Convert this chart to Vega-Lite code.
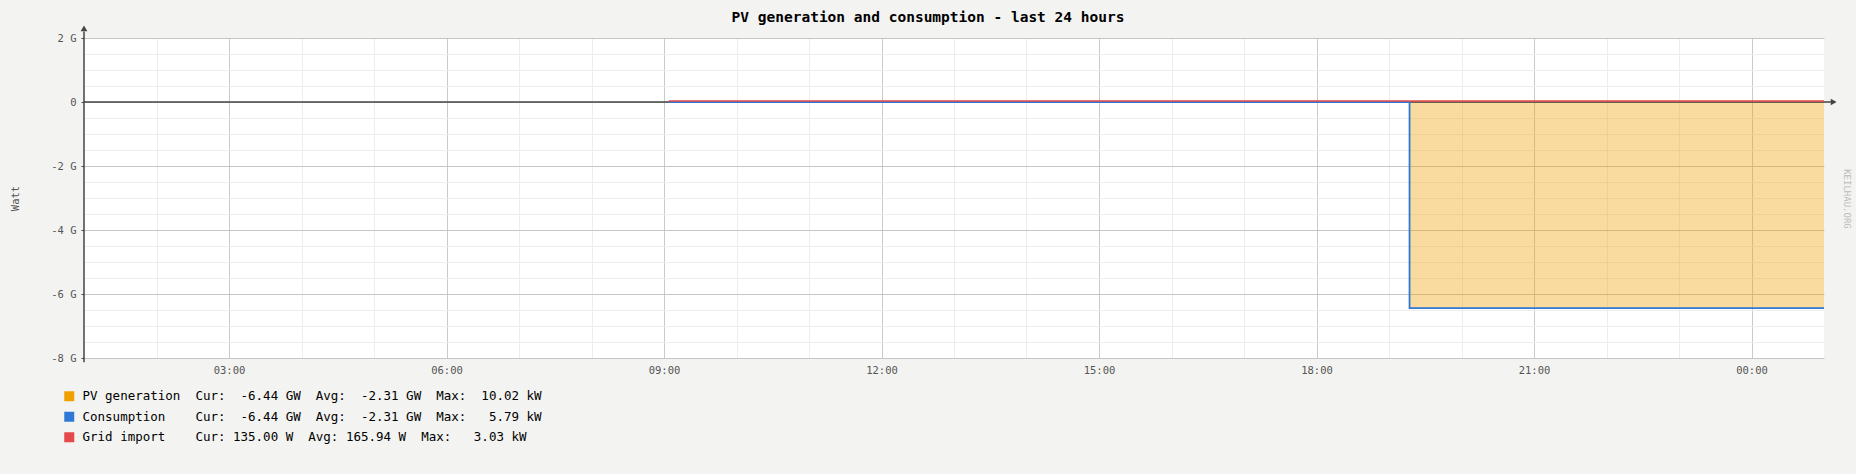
{
  "$schema": "https://vega.github.io/schema/vega-lite/v6.json",
  "width": 1740,
  "height": 320,
  "autosize": {"type": "none"},
  "padding": {"left": 84, "top": 38, "right": 32, "bottom": 116},
  "background": "#F3F3F1",
  "view": {"fill": "#FFFFFF", "stroke": null},
  "title": {
    "text": "PV generation and consumption - last 24 hours",
    "font": "DejaVu Sans Mono", "fontSize": 14.5, "fontWeight": "bold", "color": "#000000",
    "anchor": "middle", "frame": "group", "dx": -26, "offset": 0
  },
  "resolve": {"axis": {"x": "independent", "y": "independent"}},
  "data": {
    "values": [
      {"series": "PV generation", "time": "2024-01-15T09:04:00", "watts": 0},
      {"series": "PV generation", "time": "2024-01-15T19:17:00", "watts": -6440000000},
      {"series": "PV generation", "time": "2024-01-16T01:00:00", "watts": -6440000000},
      {"series": "Consumption", "time": "2024-01-15T09:04:00", "watts": 0},
      {"series": "Consumption", "time": "2024-01-15T19:17:00", "watts": -6440000000},
      {"series": "Consumption", "time": "2024-01-16T01:00:00", "watts": -6440000000},
      {"series": "Grid import", "time": "2024-01-15T09:04:00", "watts": 135},
      {"series": "Grid import", "time": "2024-01-15T19:17:00", "watts": 135},
      {"series": "Grid import", "time": "2024-01-16T01:00:00", "watts": 135}
    ]
  },
  "layer": [
    {
      "transform": [{"filter": "datum.series === 'PV generation'"}],
      "mark": {"type": "area", "interpolate": "step-after", "fillOpacity": 0.375},
      "encoding": {
        "x": {
          "field": "time", "type": "temporal",
          "scale": {"domain": [
            {"year": 2024, "month": 1, "date": 15, "hours": 1},
            {"year": 2024, "month": 1, "date": 16, "hours": 1}
          ]},
          "axis": {
            "orient": "bottom", "title": null, "domain": false, "ticks": false, "labels": false,
            "grid": true, "gridColor": "#EDEDED", "gridWidth": 1,
            "values": [
              {"year": 2024, "month": 1, "date": 15, "hours": 2},
              {"year": 2024, "month": 1, "date": 15, "hours": 3},
              {"year": 2024, "month": 1, "date": 15, "hours": 4},
              {"year": 2024, "month": 1, "date": 15, "hours": 5},
              {"year": 2024, "month": 1, "date": 15, "hours": 6},
              {"year": 2024, "month": 1, "date": 15, "hours": 7},
              {"year": 2024, "month": 1, "date": 15, "hours": 8},
              {"year": 2024, "month": 1, "date": 15, "hours": 9},
              {"year": 2024, "month": 1, "date": 15, "hours": 10},
              {"year": 2024, "month": 1, "date": 15, "hours": 11},
              {"year": 2024, "month": 1, "date": 15, "hours": 12},
              {"year": 2024, "month": 1, "date": 15, "hours": 13},
              {"year": 2024, "month": 1, "date": 15, "hours": 14},
              {"year": 2024, "month": 1, "date": 15, "hours": 15},
              {"year": 2024, "month": 1, "date": 15, "hours": 16},
              {"year": 2024, "month": 1, "date": 15, "hours": 17},
              {"year": 2024, "month": 1, "date": 15, "hours": 18},
              {"year": 2024, "month": 1, "date": 15, "hours": 19},
              {"year": 2024, "month": 1, "date": 15, "hours": 20},
              {"year": 2024, "month": 1, "date": 15, "hours": 21},
              {"year": 2024, "month": 1, "date": 15, "hours": 22},
              {"year": 2024, "month": 1, "date": 15, "hours": 23},
              {"year": 2024, "month": 1, "date": 16, "hours": 0}
            ]
          }
        },
        "y": {
          "field": "watts", "type": "quantitative", "stack": null,
          "scale": {"domain": [-8000000000, 2000000000], "nice": false, "zero": false},
          "axis": {
            "orient": "left", "title": null, "domain": false, "ticks": false, "labels": false,
            "grid": true, "gridColor": "#EDEDED", "gridWidth": 1,
            "values": [-7500000000, -7000000000, -6500000000, -5500000000, -5000000000, -4500000000,
                       -3500000000, -3000000000, -2500000000, -1500000000, -1000000000, -500000000,
                       500000000, 1000000000, 1500000000]
          }
        },
        "color": {
          "field": "series", "type": "nominal",
          "scale": {"domain": ["PV generation", "Consumption", "Grid import"], "range": ["#F0A000", "#2F78D6", "#E54848"]},
          "legend": {
            "orient": "none", "legendX": -21, "legendY": 352, "title": null, "direction": "vertical",
            "symbolType": "square", "symbolSize": 100, "symbolStrokeWidth": 0, "symbolOpacity": 1,
            "labelFont": "DejaVu Sans Mono", "labelFontSize": 12.5, "labelColor": "#000000",
            "labelOffset": 7, "rowPadding": 7.5, "padding": 0, "labelLimit": 0,
            "labelExpr": "datum.label === 'PV generation' ? 'PV\u00a0generation\u00a0\u00a0Cur:\u00a0\u00a0-6.44\u00a0GW\u00a0\u00a0Avg:\u00a0\u00a0-2.31\u00a0GW\u00a0\u00a0Max:\u00a0\u00a010.02\u00a0kW' : datum.label === 'Consumption' ? 'Consumption\u00a0\u00a0\u00a0\u00a0Cur:\u00a0\u00a0-6.44\u00a0GW\u00a0\u00a0Avg:\u00a0\u00a0-2.31\u00a0GW\u00a0\u00a0Max:\u00a0\u00a0\u00a05.79\u00a0kW' : 'Grid\u00a0import\u00a0\u00a0\u00a0\u00a0Cur:\u00a0135.00\u00a0W\u00a0\u00a0Avg:\u00a0165.94\u00a0W\u00a0\u00a0Max:\u00a0\u00a0\u00a03.03\u00a0kW'"
          }
        }
      }
    },
    {
      "data": {"values": [{}]},
      "mark": {"type": "rule", "color": "#444444", "strokeWidth": 1.5},
      "encoding": {
        "x": {
          "datum": {"year": 2024, "month": 1, "date": 15, "hours": 1}, "type": "temporal",
          "axis": {
            "orient": "bottom", "title": null, "domain": false, "ticks": false, "tickSize": 0,
            "grid": true, "gridColor": "#CACACA", "gridWidth": 1,
            "format": "%H:%M",
            "labelFont": "DejaVu Sans Mono", "labelFontSize": 10.5, "labelColor": "#555555",
            "labelPadding": 7, "labelFlush": false, "labelOverlap": false,
            "values": [
              {"year": 2024, "month": 1, "date": 15, "hours": 3},
              {"year": 2024, "month": 1, "date": 15, "hours": 6},
              {"year": 2024, "month": 1, "date": 15, "hours": 9},
              {"year": 2024, "month": 1, "date": 15, "hours": 12},
              {"year": 2024, "month": 1, "date": 15, "hours": 15},
              {"year": 2024, "month": 1, "date": 15, "hours": 18},
              {"year": 2024, "month": 1, "date": 15, "hours": 21},
              {"year": 2024, "month": 1, "date": 16, "hours": 0}
            ]
          }
        },
        "x2": {"datum": {"year": 2024, "month": 1, "date": 16, "hours": 1, "minutes": 6}},
        "y": {
          "datum": 0, "type": "quantitative",
          "axis": {
            "orient": "left", "title": "Watt", "titleFont": "DejaVu Sans Mono", "titleFontSize": 10.5,
            "titleFontWeight": "normal", "titleColor": "#555555", "titlePadding": 30,
            "domain": false, "grid": true, "gridColor": "#C6C6C6", "gridWidth": 1,
            "tickSize": 3, "tickColor": "#444444",
            "values": [-8000000000, -6000000000, -4000000000, -2000000000, 0, 2000000000],
            "labelExpr": "datum.value === 0 ? '0' : (datum.value / 1000000000) + ' G'",
            "labelFont": "DejaVu Sans Mono", "labelFontSize": 10.5, "labelColor": "#555555",
            "labelPadding": 5, "labelOverlap": false, "labelFlush": false
          }
        }
      }
    },
    {
      "data": {"values": [{}]},
      "mark": {"type": "point", "shape": "triangle-right", "filled": true, "color": "#444444", "size": 45, "opacity": 1},
      "encoding": {
        "x": {"datum": {"year": 2024, "month": 1, "date": 16, "hours": 1, "minutes": 8}, "type": "temporal", "axis": null},
        "y": {"datum": 0, "type": "quantitative", "axis": null}
      }
    },
    {
      "data": {"values": [{}]},
      "mark": {"type": "rule", "color": "#444444", "strokeWidth": 1.5},
      "encoding": {
        "x": {"datum": {"year": 2024, "month": 1, "date": 15, "hours": 1}, "type": "temporal", "axis": null},
        "y": {"datum": -8130000000, "type": "quantitative", "axis": null},
        "y2": {"datum": 2200000000}
      }
    },
    {
      "data": {"values": [{}]},
      "mark": {"type": "point", "shape": "triangle-up", "filled": true, "color": "#444444", "size": 45, "opacity": 1},
      "encoding": {
        "x": {"datum": {"year": 2024, "month": 1, "date": 15, "hours": 1}, "type": "temporal", "axis": null},
        "y": {"datum": 2300000000, "type": "quantitative", "axis": null}
      }
    },
    {
      "transform": [{"filter": "datum.series === 'Consumption'"}],
      "mark": {"type": "line", "interpolate": "step-after", "strokeWidth": 1.8},
      "encoding": {
        "x": {"field": "time", "type": "temporal", "axis": null},
        "y": {"field": "watts", "type": "quantitative", "axis": null},
        "color": {"field": "series", "type": "nominal"}
      }
    },
    {
      "transform": [{"filter": "datum.series === 'Grid import'"}],
      "mark": {"type": "line", "interpolate": "step-after", "strokeWidth": 1.5, "yOffset": -1},
      "encoding": {
        "x": {"field": "time", "type": "temporal", "axis": null},
        "y": {"field": "watts", "type": "quantitative", "axis": null},
        "color": {"field": "series", "type": "nominal"}
      }
    },
    {
      "data": {"values": [{}]},
      "mark": {"type": "text", "angle": 90, "font": "DejaVu Sans Mono", "fontSize": 9, "color": "#BBBBBB", "align": "center", "baseline": "middle"},
      "encoding": {
        "x": {"datum": {"year": 2024, "month": 1, "date": 16, "hours": 1, "minutes": 19}, "type": "temporal", "axis": null},
        "y": {"datum": -3030000000, "type": "quantitative", "axis": null},
        "text": {"value": "KEILHAU.ORG"}
      }
    }
  ]
}
